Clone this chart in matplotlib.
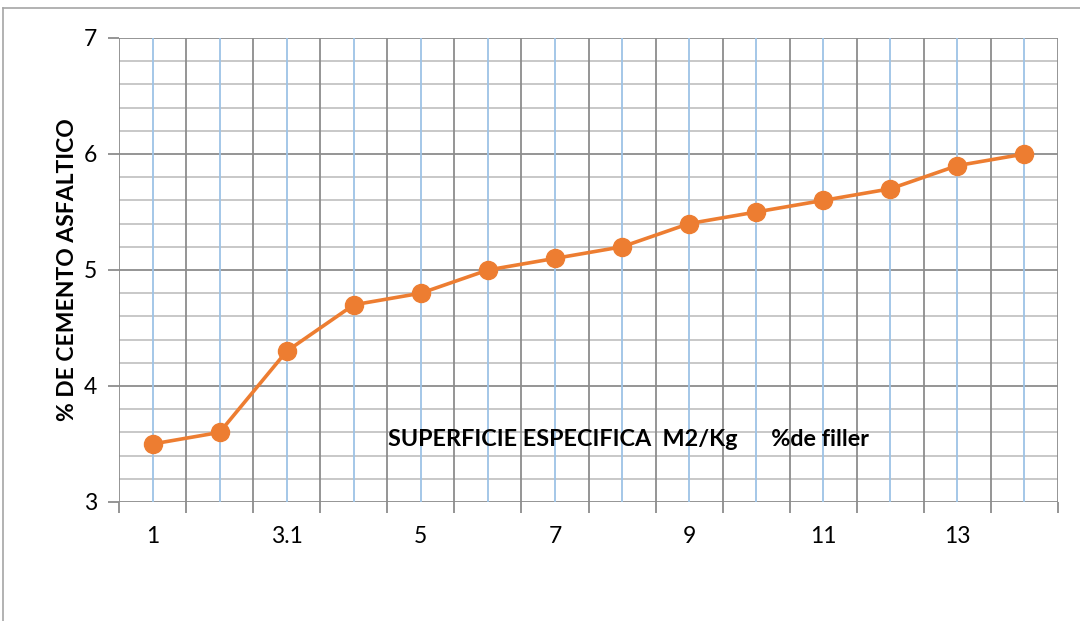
import numpy as np
import matplotlib
matplotlib.use('Agg')
import matplotlib.pyplot as plt
from matplotlib.lines import Line2D

plt.rcParams['font.family'] = ['Lato', 'DejaVu Sans']

categorias = ['1', '2', '3.1', '4', '5', '6', '7', '8', '9', '10', '11', '12', '13', '14']
cemento = [3.5, 3.6, 4.3, 4.7, 4.8, 5.0, 5.1, 5.2, 5.4, 5.5, 5.6, 5.7, 5.9, 6.0]

fig = plt.figure(figsize=(10.8, 6.21), dpi=100)
W, H = 1080, 621
ax = fig.add_axes([119 / W, 1 - 502 / H, (1058 - 119) / W, (502 - 38) / H])

x = np.arange(len(categorias))
n = len(categorias)

# rejilla horizontal
for v in np.arange(3, 7.001, 0.2):
    if abs(v - round(v)) < 1e-6:
        ax.axhline(v, color='#8c8c8c', lw=1.3, zorder=1)
    else:
        ax.axhline(v, color='#c4c4c4', lw=1.3, zorder=1)
# rejilla vertical
for b in np.arange(-0.5, n, 1.0):
    ax.axvline(b, color='#8c8c8c', lw=1.3, zorder=1)
for c in x:
    ax.axvline(c, color='#9dc3e6', lw=1.3, zorder=1)

ax.plot(x, cemento, color='#ED7D31', lw=2.6, marker='o', markersize=13, zorder=3)

ax.set_xlim(-0.5, n - 0.5)
ax.set_ylim(3, 7)
ax.set_yticks([3, 4, 5, 6, 7])
ax.set_yticklabels(['3', '4', '5', '6', '7'], fontsize=16.5)
ax.set_xticks(x[::2])
ax.set_xticklabels(categorias[::2], fontsize=16.5)
ax.set_xticks(np.arange(-0.5, n, 1.0), minor=True)
ax.tick_params(axis='x', which='major', length=0, pad=17)
ax.tick_params(axis='x', which='minor', length=8, color='#8c8c8c', width=1.3)
ax.tick_params(axis='y', length=8, color='#8c8c8c', width=1.3, pad=8)
for s in ax.spines.values():
    s.set_visible(False)

ax.set_ylabel('% DE CEMENTO ASFALTICO', fontsize=16.5, fontweight='bold', labelpad=4)
ax.text(0.286, 3.535, 'SUPERFICIE ESPECIFICA  M2/Kg      %de filler',
        transform=ax.get_yaxis_transform(), fontsize=16.8, fontweight='bold',
        va='center', ha='left', zorder=4)

# borde del área de gráfico
fig.add_artist(Line2D([3 / W, 1], [1 - 8 / H, 1 - 8 / H], color='#a6a6a6', lw=1.2))
fig.add_artist(Line2D([3 / W, 3 / W], [0, 1 - 8 / H], color='#a6a6a6', lw=1.2))

fig.savefig('out.png', dpi=100)
